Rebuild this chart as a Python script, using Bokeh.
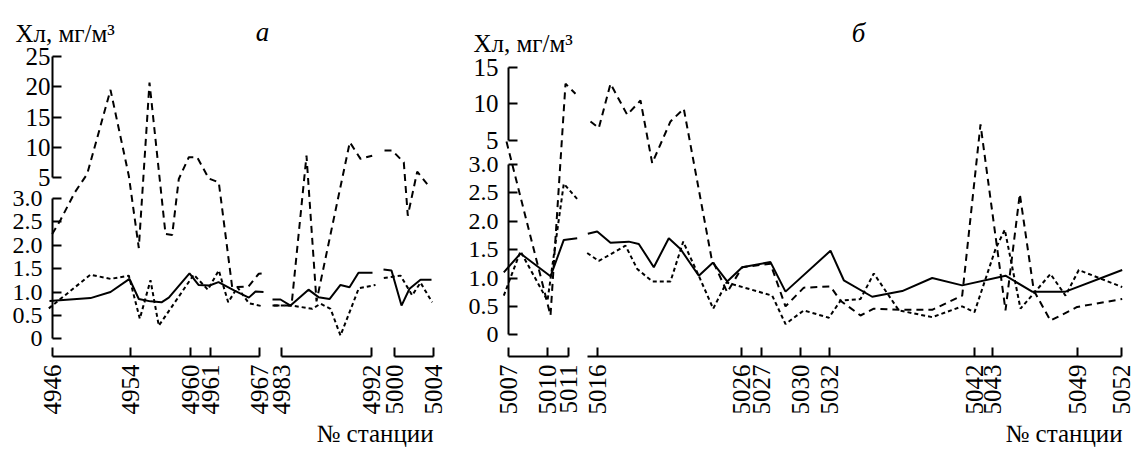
import math
import numpy as np
from bokeh.plotting import figure
from bokeh.layouts import row
from bokeh.models import (LinearAxis, FixedTicker, Range1d, ColumnDataSource, Label,
                          CustomJSTransform)
from bokeh.transform import transform
from bokeh.embed import file_html
from bokeh.resources import INLINE

nan = float("nan")

# ---------------- Panel а ----------------
A_ST_LABELS = ["4946", "4954", "4960", "4961", "4967", "4983", "4992", "5000", "5004"]
A_ST_DIST = [0.0, 7.75, 13.75, 15.75, 20.7, 22.9, 31.9, 34.2, 38.1]
A_SEGMENTS = [(0.0, 20.7), (22.9, 31.9), (34.2, 38.1)]

A_SOLID_D = [-0.3, 3.8, 5.8, 7.7, 8.63, 9.8, 10.9, 11.63, 13.7, 14.6, 15.7, 16.6, 18.2, 19.63, 20.3, 21.1, nan,
             22.0, 22.8, 23.8, 25.6, 26.6, 27.7, 28.8, 29.7, 30.6, 32.0, nan,
             33.1, 33.9, 34.9, 35.7, 36.8, 37.9]
A_SOLID_V = [0.81, 0.87, 1.00, 1.28, 0.85, 0.80, 0.78, 0.88, 1.40, 1.15, 1.14, 1.21, 1.03, 0.88, 1.01, 1.00, nan,
             0.84, 0.84, 0.71, 1.05, 0.89, 0.85, 1.15, 1.10, 1.41, 1.41, nan,
             1.48, 1.46, 0.71, 1.07, 1.26, 1.26]

A_SHORT_D = [-0.37, 3.8, 5.8, 7.63, 8.73, 9.8, 10.63, 14.13, 15.53, 16.63, 17.57, 18.5, 19.63, 21.1, nan,
             22.13, 23.97, 25.97, 26.8, 27.8, 28.8, 30.63, 32.3, nan,
             33.13, 34.8, 35.97, 36.8, 37.97]
A_SHORT_V = [0.65, 1.37, 1.28, 1.35, 0.43, 1.25, 0.28, 1.37, 1.05, 1.46, 0.78, 1.10, 0.76, 0.69, nan,
             0.71, 0.71, 0.64, 0.75, 0.64, 0.07, 1.08, 1.15, nan,
             1.30, 1.35, 0.93, 1.20, 0.78]

A_LONG_D = [-0.03, 0.8, 2.23, 3.47, 5.8, 7.63, 8.63, 9.7, 11.3, 11.97, 12.63, 13.63, 14.47, 15.63, 16.63, 17.97, 19.6, 20.63, 21.13, nan,
            22.0, 23.9, 25.4, 26.4, 29.73, 30.8, 31.97, nan,
            33.2, 33.97, 35.13, 35.53, 36.47, 37.47]
A_LONG_V = [2.24, 2.54, 3.57, 5.57, 19.5, 5.28, 1.94, 20.7, 2.24, 2.22, 4.85, 8.33, 8.33, 4.9, 4.52, 1.10, 1.12, 1.39, 1.40, nan,
            0.71, 0.71, 8.6, 0.8, 10.83, 8.07, 8.6, nan,
            9.45, 9.45, 7.5, 2.63, 5.95, 4.37]

# ---------------- Panel б ----------------
B_ST_LABELS = ["5007", "5010", "5011", "5016", "5026", "5027", "5030", "5032", "5042", "5043", "5049", "5052"]
B_ST_DIST = [0.0, 3.9, 6.0, 8.9, 23.3, 25.3, 29.2, 32.1, 46.6, 48.4, 56.9, 61.3]
B_SEGMENTS = [(0.0, 6.0), (7.9, 61.3)]

B_SOLID_D = [-0.47, 1.2, 4.2, 5.53, 6.87, nan,
             7.93, 8.87, 10.2, 12.03, 13.03, 14.53, 16.03, 17.2, 19.03, 20.43, 21.87, 23.37, 26.2, 27.7,
             32.2, 33.53, 36.37, 39.37, 42.37, 45.37, 49.7, 52.37, 55.7, 61.37]
B_SOLID_V = [1.10, 1.43, 1.03, 1.67, 1.70, nan,
             1.78, 1.82, 1.62, 1.64, 1.60, 1.19, 1.70, 1.51, 1.04, 1.27, 0.94, 1.19, 1.28, 0.76,
             1.48, 0.96, 0.67, 0.77, 1.00, 0.87, 1.04, 0.76, 0.76, 1.14]

B_SHORT_D = [-0.47, 1.2, 3.9, 5.53, 6.87, nan,
             7.87, 9.03, 11.7, 12.87, 14.37, 16.2, 17.47, 19.0, 20.47, 21.8, 26.37, 27.7, 29.53, 32.03,
             33.2, 35.2, 36.53, 39.03, 42.37, 45.37, 46.6, 48.7, 49.63, 51.2, 54.2, 55.7, 57.03, 61.37]
B_SHORT_V = [0.69, 1.47, 0.60, 2.66, 2.39, nan,
             1.44, 1.30, 1.57, 1.16, 0.94, 0.94, 1.64, 1.05, 0.46, 0.92, 0.69, 0.19, 0.43, 0.30,
             0.60, 0.63, 1.08, 0.43, 0.31, 0.50, 0.40, 1.51, 1.85, 0.46, 1.07, 0.69, 1.14, 0.84]

B_LONG_D = [-0.2, 4.2, 5.7, 6.7, nan,
            8.2, 9.03, 10.2, 11.87, 13.2, 14.37, 16.2, 17.53, 20.3, 21.87, 23.37, 26.2, 27.7, 29.53,
            32.2, 33.2, 35.2, 36.53, 39.2, 42.37, 45.37, 47.2, 49.7, 51.13, 52.53, 54.2, 56.87, 61.37]
B_LONG_V = [4.9, 0.34, 12.73, 11.37, nan,
            7.59, 6.68, 12.73, 8.5, 10.45, 3.1, 7.59, 9.32, 1.35, 0.75, 1.19, 1.25, 0.50, 0.83,
            0.85, 0.60, 0.34, 0.46, 0.44, 0.44, 0.69, 7.18, 0.43, 2.48, 0.78, 0.25, 0.49, 0.63]

LOW_TICKS = [0, 0.5, 1.0, 1.5, 2.0, 2.5, 3.0]
LOW_LABELS = ["0", "0.5", "1.0", "1.5", "2.0", "2.5", "3.0"]
A_UP_TICKS = [5, 10, 15, 20, 25]
B_UP_TICKS = [5, 10, 15]

FONT = "Liberation Serif"
H = 450
DPX = 10.0      # pixels per distance unit
AXIS_Y = 356    # pixel row of the station axis


def broken_scale(g, u):
    # broken axis: linear up to 3, compressed gap 3..5, compressed upper part above 5
    return CustomJSTransform(
        args=dict(g=g, u=u),
        func="""
            if (x <= 3) return x;
            if (x <= 5) return 3 + (x - 3) * g;
            return 3 + 2 * g + (x - 5) * u;
        """,
        v_func="""
            const out = new Float64Array(xs.length);
            for (let i = 0; i < xs.length; i++) {
                const x = xs[i];
                out[i] = x <= 3 ? x : (x <= 5 ? 3 + (x - 3) * g : 3 + 2 * g + (x - 5) * u);
            }
            return out;
        """)


def style_axis(ax, size="23px"):
    ax.axis_line_width = 2
    ax.axis_line_color = "black"
    ax.major_tick_line_width = 2
    ax.major_tick_line_color = "black"
    ax.major_tick_in = 9
    ax.major_tick_out = 0
    ax.minor_tick_line_color = None
    ax.major_label_text_font = FONT
    ax.major_label_text_font_size = size
    ax.major_label_text_color = "black"


def make_panel(width, x0_px, zero_py, k, g, u, up_ticks, up_standoff,
               st_dist, st_labels, segments, series):
    xr = (-x0_px / DPX, (width - x0_px) / DPX)
    yr = ((zero_py - H) / k, zero_py / k)
    axis_h = (zero_py - AXIS_Y) / k
    p = figure(width=width, height=H, x_range=Range1d(*xr), y_range=Range1d(*yr),
               x_axis_type=None, y_axis_type=None, title=None,
               toolbar_location=None, output_backend="svg",
               min_border_left=0, min_border_right=0, min_border_top=0, min_border_bottom=0)
    p.grid.visible = False
    p.outline_line_color = None
    p.background_fill_color = "white"
    p.border_fill_color = "white"

    h5 = 3 + 2 * g
    p.extra_y_ranges = {"upper": Range1d(5 + (yr[0] - h5) / u, 5 + (yr[1] - h5) / u)}

    ax_lo = LinearAxis(ticker=FixedTicker(ticks=LOW_TICKS), bounds=(0, 3), fixed_location=0,
                       major_label_overrides={t: l for t, l in zip(LOW_TICKS, LOW_LABELS)})
    style_axis(ax_lo, "24px")
    ax_lo.major_label_standoff = 10
    p.add_layout(ax_lo, "left")

    ax_up = LinearAxis(ticker=FixedTicker(ticks=up_ticks), bounds=(up_ticks[0], up_ticks[-1]),
                       fixed_location=0, y_range_name="upper",
                       major_label_overrides={t: str(t) for t in up_ticks})
    style_axis(ax_up, "25px")
    ax_up.major_label_standoff = up_standoff
    p.add_layout(ax_up, "left")

    for (s0, s1) in segments:
        sel = [(d, l) for d, l in zip(st_dist, st_labels) if s0 - 1e-9 <= d <= s1 + 1e-9]
        ax = LinearAxis(ticker=FixedTicker(ticks=[d for d, _ in sel]), bounds=(s0, s1),
                        fixed_location=axis_h, major_label_overrides=dict(sel),
                        major_label_orientation=math.pi / 2)
        style_axis(ax, "25px")
        ax.major_label_standoff = 8
        p.add_layout(ax, "below")

    brk = broken_scale(g, u)
    for d, v, dash in series:
        src = ColumnDataSource(dict(d=np.array(d, dtype=float), v=np.array(v, dtype=float)))
        p.line(x="d", y=transform("v", brk), source=src, line_color="black",
               line_width=2, line_dash=dash)
    return p


pa = make_panel(460, 52, 338.3, 46.8, 0.2244, 0.129, A_UP_TICKS, 2,
                A_ST_DIST, A_ST_LABELS, A_SEGMENTS,
                [(A_SOLID_D, A_SOLID_V, "solid"),
                 (A_LONG_D, A_LONG_V, "7 5"),
                 (A_SHORT_D, A_SHORT_V, "4 3")])
pb = make_panel(678, 48, 334.3, 56.8, 0.2113, 0.129, B_UP_TICKS, 10,
                B_ST_DIST, B_ST_LABELS, B_SEGMENTS,
                [(B_SOLID_D, B_SOLID_V, "solid"),
                 (B_LONG_D, B_LONG_V, "7 5"),
                 (B_SHORT_D, B_SHORT_V, "4 3")])


def add_text(p, x, y, text, size, align="left", style="normal"):
    p.add_layout(Label(x=x, y=y, text=text, text_font=FONT, text_font_size=size,
                       text_font_style=style, text_align=align, text_baseline="alphabetic",
                       text_color="black"))


# panel а: distance = (px - 52) / 10, value = (338.3 - py) / 46.8
add_text(pa, -3.7, 6.524, "Хл, мг/м³", "25px")
add_text(pa, 21.0, 6.545, "а", "27px", align="center", style="italic")
add_text(pa, 26.4, -2.03, "№ станции", "25px")
# panel б: distance = (px - 508) / 10, value = (334.3 - py) / 56.8
add_text(pb, -3.5, 5.129, "Хл, мг/м³", "25px")
add_text(pb, 35.0, 5.322, "б", "27px", align="center", style="italic")
add_text(pb, 49.7, -1.74, "№ станции", "25px")

layout = row(pa, pb)
open("out.html", "w").write(file_html(layout, INLINE))
